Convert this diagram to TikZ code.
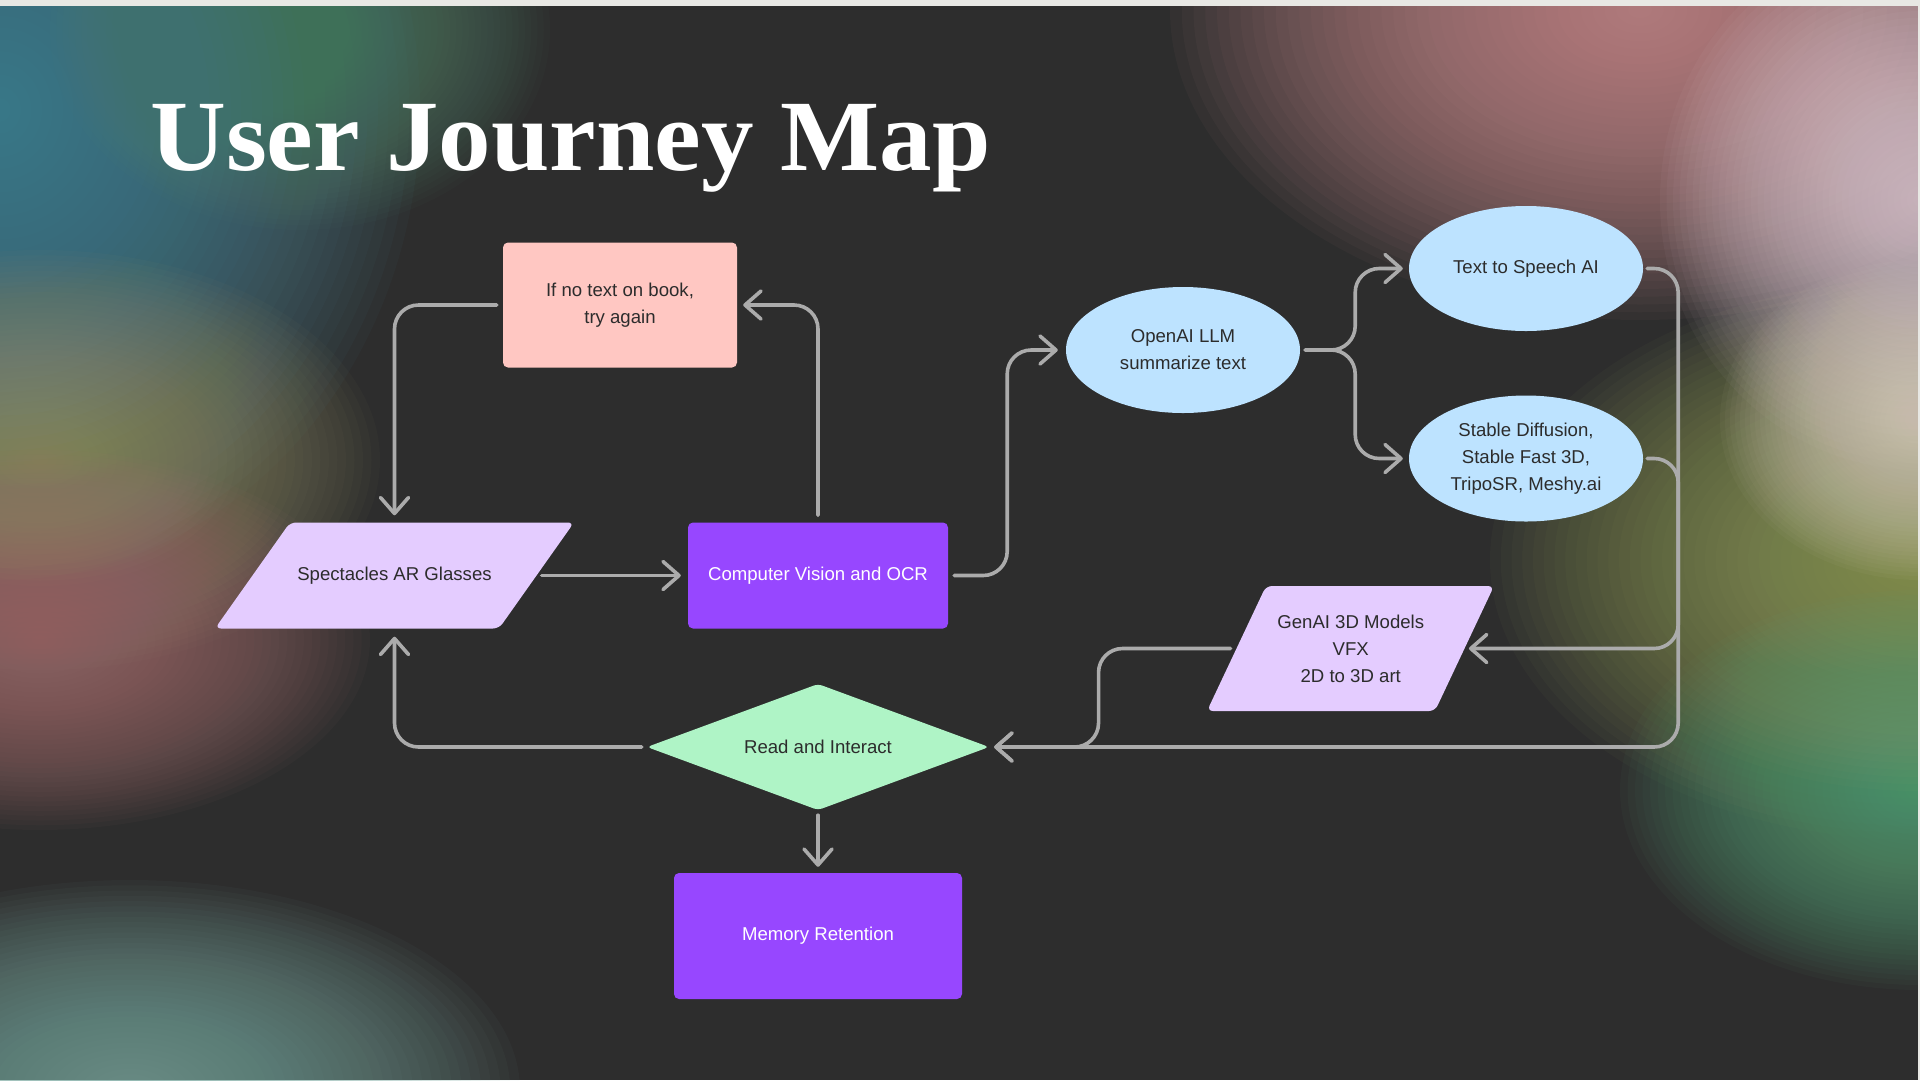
\documentclass[tikz,border=0pt]{standalone}
\usepackage{fontspec}
\usepackage{graphicx}
\setmainfont{Liberation Sans}
\newfontfamily\titlefont{Liberation Serif}
\usetikzlibrary{arrows.meta,shapes.geometric,calc}

\definecolor{bgdark}{HTML}{2D2D2D}
\definecolor{edgestrip}{HTML}{E8E8E4}
\definecolor{linegray}{HTML}{ABABAB}
\definecolor{pinkbox}{HTML}{FFC7C2}
\definecolor{lavender}{HTML}{E4CCFF}
\definecolor{purplebox}{HTML}{9747FF}
\definecolor{mint}{HTML}{AFF4C6}
\definecolor{skyblue}{HTML}{BDE3FF}
\definecolor{txtdark}{HTML}{2C2C2C}

\definecolor{blobA}{HTML}{4F92A6}
\definecolor{blobB}{HTML}{55876F}
\definecolor{blobC}{HTML}{9A966C}
\definecolor{blobD}{HTML}{A87474}
\definecolor{blobE}{HTML}{7DAAA2}
\definecolor{blobF}{HTML}{D69597}
\definecolor{blobG}{HTML}{EAD4DE}
\definecolor{blobH}{HTML}{DCD0C2}
\definecolor{blobI}{HTML}{9CAA60}
\definecolor{blobJ}{HTML}{5EA87C}

\newcommand\nodefont{\fontsize{18.6pt}{27pt}\selectfont}

\tikzset{
  box/.style={rectangle, rounded corners=5pt, inner sep=0pt, align=center, font=\nodefont, text=txtdark},
  oval/.style={ellipse, fill=skyblue, inner sep=0pt, align=center, font=\nodefont, text=txtdark, minimum width=234pt, minimum height=126pt},
  label/.style={inner sep=0pt, align=center, font=\nodefont, text=txtdark},
  conn/.style={draw=linegray, line width=3.6pt, rounded corners=24pt, line cap=round,
    -{Straight Barb[length=16pt,width=28pt,round]}}
}

\begin{document}
\begin{tikzpicture}[x=1pt,y=-1pt]
\useasboundingbox (0,0) rectangle (1920,1080);
\fill[bgdark] (0,0) rectangle (1920,1080);

\begin{scope}
\clip (0,0) rectangle (1920,1080);
\foreach \cx/\cy/\rx/\ry/\col in {
  0/110/420/470/blobA,
  300/30/250/200/blobB,
  40/460/340/210/blobC,
  40/640/330/190/blobD,
  130/1090/390/210/blobE,
  1640/10/470/310/blobF,
  1920/560/430/280/blobI,
  1920/790/300/200/blobJ,
  1920/200/260/270/blobG,
  1920/420/200/160/blobH}
{
  \foreach \k in {1,...,40}{
    \fill[\col, fill opacity=0.045] (\cx,\cy) ellipse [x radius={(\rx/40*\k)*1pt}, y radius={(\ry/40*\k)*1pt}];
  }
}
\end{scope}

\fill[edgestrip] (0,0) rectangle (1920,6);
\fill[edgestrip] (1918,0) rectangle (1920,1080);

% title
\node[anchor=base west, inner sep=0pt, text=white] (title) at (150,170)
  {\titlefont\bfseries\scalebox{1.04}[1]{\fontsize{101pt}{110pt}\selectfont User Journey Map}};

% parallelogram and diamond fills
\fill[lavender, rounded corners=6pt] (394.5,575.5) ++(-104.5,-53) -- ++(284,0) -- ++(-75,106) -- ++(-284,0) -- cycle;
\fill[lavender, rounded corners=6pt] (1350.75,648.5) ++(-84.75,-62.5) -- ++(228,0) -- ++(-59,125) -- ++(-228,0) -- cycle;
\fill[mint, rounded corners=4pt] (647,747) -- (818,684) -- (989,747) -- (818,810) -- cycle;

% nodes
\node[box, fill=pinkbox, minimum width=234pt, minimum height=125pt] (pink) at (620,305) {If no text on book,\\try again};
\node[label, minimum width=284pt, minimum height=106pt] (sp) at (394.5,575.5) {Spectacles AR Glasses};
\node[box, fill=purplebox, text=white, minimum width=260pt, minimum height=106pt] (cv) at (818,575.5) {Computer Vision and OCR};
\node[label, minimum width=342pt, minimum height=126pt] (dia) at (818,747) {Read and Interact};
\node[box, fill=purplebox, text=white, minimum width=288pt, minimum height=126pt] (mem) at (818,936) {Memory Retention};
\node[oval] (llm) at (1183,350) {OpenAI LLM\\summarize text};
\node[oval, minimum height=125pt] (tts) at (1526,268.5) {Text to Speech AI};
\node[oval] (sd) at (1526,458.5) {Stable Diffusion,\\Stable Fast 3D,\\TripoSR, Meshy.ai};
\node[label, minimum width=228pt, minimum height=125pt] (gen) at (1350.75,648.5) {GenAI 3D Models\\VFX\\2D to 3D art};

% connectors
\draw[conn] ([xshift=-6pt]pink.west) -| ([yshift=7pt]sp.north);
\draw[conn] ([yshift=7pt]cv.north) |- ([xshift=6pt]pink.east);
\draw[conn] ([xshift=5pt]sp.east) -- ([xshift=-7pt]cv.west);
\draw[conn] ([xshift=6pt]cv.east) -- ([xshift=59pt]cv.east) |- ([xshift=-8pt]llm.west);
\draw[conn] ([xshift=5pt]llm.east) -- ([xshift=55pt]llm.east) |- ([xshift=-6pt]tts.west);
\draw[conn] ([xshift=5pt]llm.east) -- ([xshift=55pt]llm.east) |- ([xshift=-6pt]sd.west);
\draw[conn] ([xshift=4pt]tts.east) -- ([xshift=35pt]tts.east) |- ([xshift=5pt]dia.east);
\draw[conn] ([xshift=4pt]sd.east) -- ([xshift=35pt]sd.east) |- ([xshift=4pt]gen.east);
\draw[conn] ([xshift=-6pt]gen.west) -- ([xshift=-138pt]gen.west) |- ([xshift=5pt]dia.east);
\draw[conn] ([xshift=-5pt]dia.west) -| ([yshift=-8pt]sp.south);
\draw[conn] ([yshift=-5pt]dia.south) -- ([yshift=6pt]mem.north);
\end{tikzpicture}
\end{document}
